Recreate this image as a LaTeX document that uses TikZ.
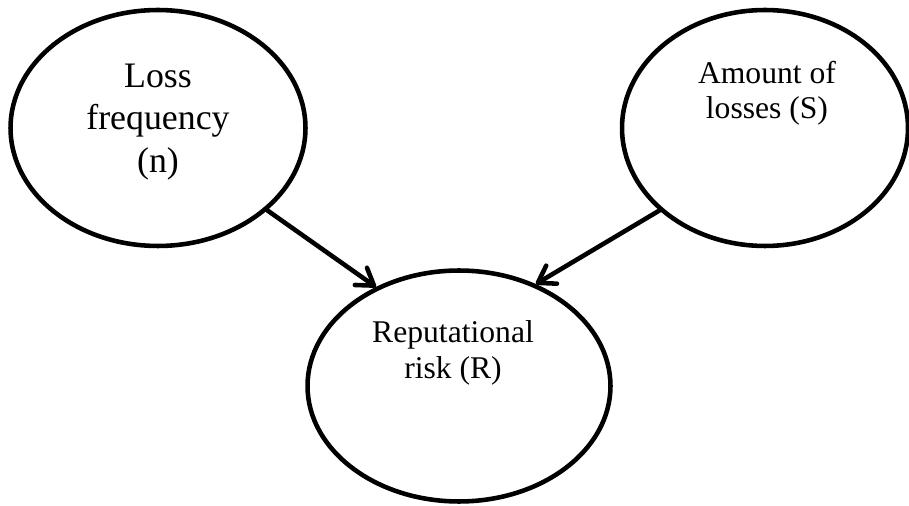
\documentclass[tikz,border=0pt]{standalone}
\usepackage{fontspec}
\setmainfont{Liberation Serif}
\usetikzlibrary{shapes.geometric, arrows.meta, positioning}

\begin{document}
\begin{tikzpicture}[x=0.02cm, y=-0.02cm,
  factor/.style={ellipse, draw, line width=2.6pt, inner sep=0pt},
  caption/.style={align=center, inner sep=0pt},
  link/.style={-{Straight Barb[length=3.2mm, width=4.2mm, round]}, line width=2.6pt, line cap=round}]
  \useasboundingbox (0,0) rectangle (909,506);
  % causes
  \node[factor, minimum width=5.9cm, minimum height=4.72cm] (freq) at (158,128) {};
  \node[factor, minimum width=5.72cm, minimum height=4.72cm] (amount) at (765,128) {};
  % effect
  \node[factor, minimum width=6.06cm, minimum height=4.62cm] (risk) at (459,386) {};
  % texts, set above the centres
  \node[caption, font={\fontsize{20.4}{24.4}\selectfont}] (freqtext) at ([yshift=0.12cm]freq.center) {Loss\\frequency\\(n)};
  \node[caption, font={\fontsize{18}{19.8}\selectfont}] (amounttext) at ([xshift=0.04cm, yshift=0.7cm]amount.center) {Amount of\\losses (S)};
  \node[caption, font={\fontsize{18}{20.4}\selectfont}] (risktext) at ([xshift=-0.12cm, yshift=0.67cm]risk.center) {Reputational\\risk (R)};
  % influences
  \draw[link] (freq.-37) -- (risk.130);
  \draw[link] (amount.218) -- (risk.53);
\end{tikzpicture}
\end{document}
